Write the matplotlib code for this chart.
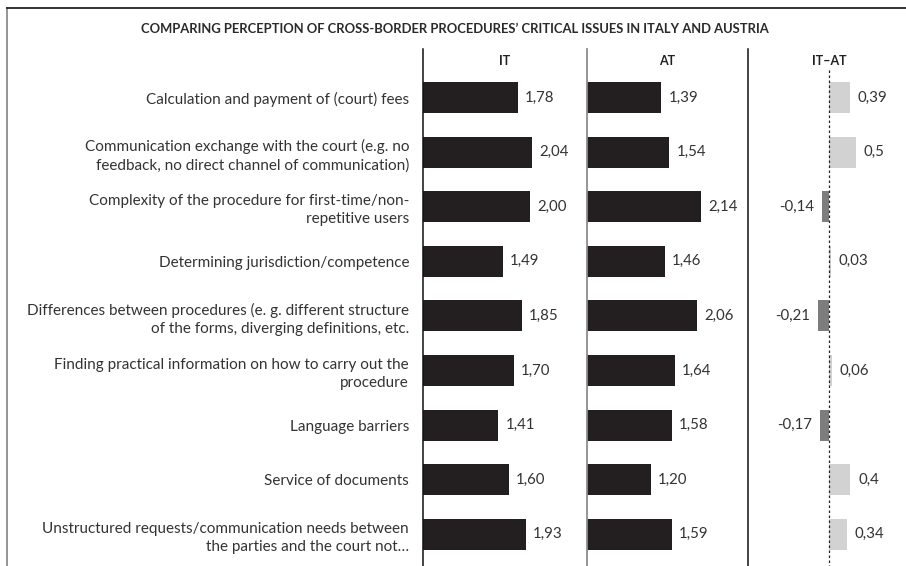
import matplotlib
matplotlib.use("Agg")
import matplotlib.pyplot as plt
from matplotlib.lines import Line2D

categories = [
    "Calculation and payment of (court) fees",
    "Communication exchange with the court (e.g. no\nfeedback, no direct channel of communication)",
    "Complexity of the procedure for first-time/non-\nrepetitive users",
    "Determining jurisdiction/competence",
    "Differences between procedures (e. g. different structure\nof the forms, diverging definitions, etc.",
    "Finding practical information on how to carry out the\nprocedure",
    "Language barriers",
    "Service of documents",
    "Unstructured requests/communication needs between\nthe parties and the court not…",
]
it_values = [1.78, 2.04, 2.00, 1.49, 1.85, 1.70, 1.41, 1.60, 1.93]
at_values = [1.39, 1.54, 2.14, 1.46, 2.06, 1.64, 1.58, 1.20, 1.59]
diff_values = [0.39, 0.5, -0.14, 0.03, -0.21, 0.06, -0.17, 0.4, 0.34]
diff_labels = ["0,39", "0,5", "-0,14", "0,03", "-0,21", "0,06", "-0,17", "0,4", "0,34"]
title = "COMPARING PERCEPTION OF CROSS-BORDER PROCEDURES\u2019 CRITICAL ISSUES IN ITALY AND AUSTRIA"
headers = ["IT", "AT", "IT\u2013AT"]

FONT = ["Lato", "DejaVu Sans"]
plt.rcParams["font.family"] = FONT
TXT = "#333333"
BAR = "#231f20"
POS = "#d2d2d2"
NEG = "#7d7d7d"

W, H = 906, 566
fig = plt.figure(figsize=(W / 100, H / 100), dpi=100)

px_per_unit = 53.5
top_px = 49
first_c, step = 97.5, 54.6
y_top = (top_px - first_c) / step
y_bot = (H - first_c) / step

def make_ax(x0, x1, xmin):
    ax = fig.add_axes([x0 / W, 0, (x1 - x0) / W, 1 - top_px / H])
    ax.set_xlim(xmin, xmin + (x1 - x0) / px_per_unit)
    ax.set_ylim(y_bot, y_top)
    for s in ["top", "right", "bottom"]:
        ax.spines[s].set_visible(False)
    ax.set_xticks([])
    ax.patch.set_alpha(0)
    return ax

ax_it = make_ax(423, 587, 0)
ax_at = make_ax(587, 748, 0)
ax_df = make_ax(748, 906, -81 / px_per_unit)

pos = list(range(len(categories)))
bh = 0.57

ax_it.spines["left"].set_color("#111111")
ax_it.spines["left"].set_linewidth(1.1)
ax_at.spines["left"].set_color("#8c8c8c")
ax_at.spines["left"].set_linewidth(1.3)
ax_df.spines["left"].set_color("#111111")
ax_df.spines["left"].set_linewidth(1.1)

ax_it.barh(pos, it_values, height=bh, color=BAR)
ax_at.barh(pos, at_values, height=bh, color=BAR)
colors = [POS if v >= 0 else NEG for v in diff_values]
ax_df.barh(pos, diff_values, height=bh, color=colors)

VFS = 10.8
for ax, vals in [(ax_it, it_values), (ax_at, at_values)]:
    for p, v in zip(pos, vals):
        ax.annotate(f"{v:.2f}".replace(".", ","), (v, p), xytext=(5, 0),
                    textcoords="offset points", ha="left", va="center",
                    fontsize=VFS, color=TXT)

for p, v, lab in zip(pos, diff_values, diff_labels):
    if v >= 0:
        ax_df.annotate(lab, (v, p), xytext=(5.5, 0), textcoords="offset points",
                       ha="left", va="center", fontsize=VFS, color=TXT)
    else:
        ax_df.annotate(lab, (v, p), xytext=(-5.5, 0), textcoords="offset points",
                       ha="right", va="center", fontsize=VFS, color=TXT)

ax_df.plot([0, 0], [(70 - first_c) / step, y_bot], ls=(0, (2, 2)), color="#222222", lw=0.9)

ax_it.set_yticks(pos)
ax_it.set_yticklabels(categories, fontsize=11, color=TXT, linespacing=1.38)
ax_it.tick_params(axis="y", length=0, pad=10)
ax_at.set_yticks([])
ax_df.set_yticks([])

fig.text(455 / W, 1 - 29 / H, title, ha="center", va="center", fontsize=9.4,
         fontweight="bold", color="#2a2a2a")
for xc, h in zip([505, 667.5, 829], headers):
    fig.text(xc / W, 1 - 61 / H, h, ha="center", va="center", fontsize=9,
             fontweight="bold", color="#222222")

fig.add_artist(Line2D([7 / W, 7 / W], [0, 1 - 8 / H], color="#8c8c8c", lw=1.3,
                      transform=fig.transFigure))
fig.add_artist(Line2D([7 / W, 1], [1 - 8 / H, 1 - 8 / H], color="#222222", lw=1.3,
                      transform=fig.transFigure))

fig.savefig("out.png", dpi=100)
